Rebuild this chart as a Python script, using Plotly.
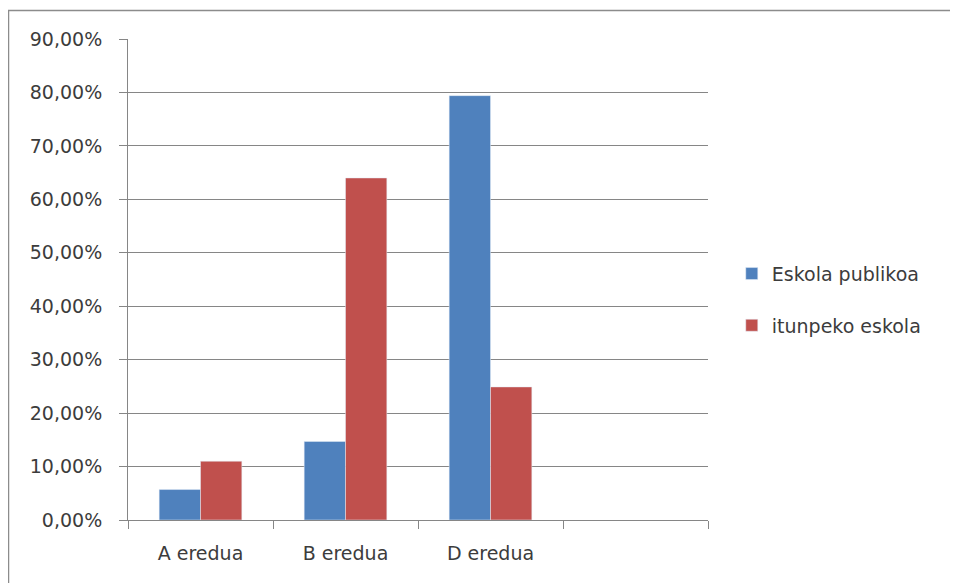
import plotly.graph_objects as go

categories = ["A eredua", "B eredua", "D eredua"]
all_slots = ["A eredua", "B eredua", "D eredua", " "]
public_vals = [5.7, 14.7, 79.4]
itunpeko_vals = [11.0, 64.0, 24.9]
series_names = ["Eskola publikoa", "itunpeko eskola"]
y_ticks = [0, 10, 20, 30, 40, 50, 60, 70, 80, 90]
y_tick_labels = ["0,00%", "10,00%", "20,00%", "30,00%", "40,00%", "50,00%",
                 "60,00%", "70,00%", "80,00%", "90,00%"]

font_family = "DejaVu Sans, sans-serif"
text_color = "#3c3c3c"
axis_color = "#868686"

fig = go.Figure()
fig.add_trace(go.Bar(x=categories, y=public_vals, name=series_names[0],
                     marker_color="#4F81BD", legendgroup="a"))
fig.add_trace(go.Bar(x=categories, y=itunpeko_vals, name=series_names[1],
                     marker_color="#C0504D", legendgroup="b"))

PLOT_W, PLOT_H = 580, 481
fig.update_layout(
    width=950, height=575,
    margin=dict(l=120, r=250, t=31, b=63, pad=0),
    paper_bgcolor="white", plot_bgcolor="white",
    barmode="group", bargap=0.43, bargroupgap=0,
    font=dict(family=font_family, size=19, color=text_color),
    showlegend=True,
    legend=dict(x=1.041, y=0.458, xanchor="left", yanchor="middle",
                tracegroupgap=24, font=dict(size=19, color=text_color),
                bgcolor="rgba(0,0,0,0)"),
    xaxis=dict(type="category", categoryorder="array", categoryarray=all_slots,
               range=[-0.5, 3.5], tickson="boundaries", ticks="outside",
               ticklen=8, tickcolor=axis_color, showline=True,
               linecolor=axis_color, linewidth=1, showgrid=False,
               ticklabelstandoff=16,
               tickfont=dict(size=19, color=text_color), fixedrange=True),
    yaxis=dict(range=[0, 90], tickvals=y_ticks, ticktext=y_tick_labels,
               ticks="outside", ticklen=8, tickcolor=axis_color,
               showline=True, linecolor=axis_color, linewidth=1,
               showgrid=True, gridcolor=axis_color, gridwidth=1,
               zeroline=False, ticklabelstandoff=13,
               tickfont=dict(size=19, color=text_color),
               fixedrange=True),
    shapes=[dict(type="rect", xref="paper", yref="paper",
                 x0=(8.5 - 128) / PLOT_W, x1=1.6,
                 y0=-0.3, y1=(520 - 10.5) / PLOT_H,
                 line=dict(color="#8c8c8c", width=1.5), fillcolor="rgba(0,0,0,0)",
                 layer="below")],
)

fig.write_html("out.html")
